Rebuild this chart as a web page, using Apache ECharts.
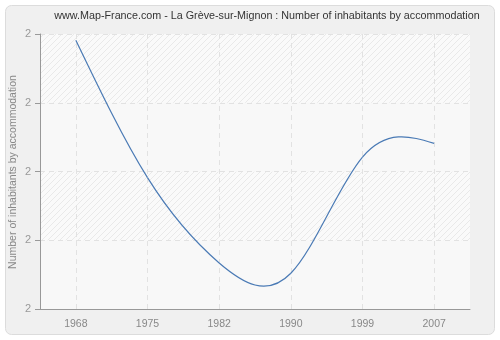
<!DOCTYPE html>
<html><head><meta charset="utf-8">
<script src="https://cdn.jsdelivr.net/npm/echarts@6/dist/echarts.min.js"></script>
<style>html,body{margin:0;padding:0;background:#fff}#c{width:500px;height:340px}</style>
</head><body><div id="c"></div>
<script>
const titleText = 'www.Map-France.com - La Grève-sur-Mignon : Number of inhabitants by accommodation';
const yAxisName = 'Number of inhabitants by accommodation';
const years = ['1968', '1975', '1982', '1990', '1999', '2007'];
const values = [2.191, 1.991, 1.867, 1.852, 2.021, 2.041];
const yMin = 1.8, yMax = 2.2, yStep = 0.1;
const FONT = 'Liberation Sans';

function hatch(bg) {
  const c = document.createElement('canvas');
  c.width = 6; c.height = 6;
  const g = c.getContext('2d');
  g.fillStyle = bg; g.fillRect(0, 0, 6, 6);
  g.strokeStyle = '#e9e9e9'; g.lineWidth = 1;
  g.beginPath();
  g.moveTo(0, 6); g.lineTo(6, 0);
  g.moveTo(-1, 1); g.lineTo(1, -1);
  g.moveTo(5, 7); g.lineTo(7, 5);
  g.stroke();
  return c;
}

// natural cubic spline through the pixel positions of the data points
function splineRender(params, api) {
  if (params.dataIndex !== 0) return null;
  const n = values.length;
  const P = values.map((v, i) => api.coord([i, v]));
  const y = P.map(p => p[1]);
  const M = new Array(n).fill(0);
  const m = n - 2;
  const c = [], d = [];
  for (let k = 0; k < m; k++) {
    const i = k + 1;
    const rhs = 6 * (y[i + 1] - 2 * y[i] + y[i - 1]);
    if (k === 0) { c[k] = 1 / 4; d[k] = rhs / 4; }
    else { const den = 4 - c[k - 1]; c[k] = 1 / den; d[k] = (rhs - d[k - 1]) / den; }
  }
  for (let k = m - 1; k >= 0; k--) {
    M[k + 1] = d[k] - (k < m - 1 ? c[k] * M[k + 2] : 0);
  }
  const children = [];
  for (let i = 0; i < n - 1; i++) {
    const dx = P[i + 1][0] - P[i][0];
    const dy = y[i + 1] - y[i];
    const s0 = dy - (2 * M[i] + M[i + 1]) / 6;
    const s1 = dy + (M[i] + 2 * M[i + 1]) / 6;
    children.push({
      type: 'bezierCurve',
      shape: {
        x1: P[i][0], y1: y[i],
        cpx1: P[i][0] + dx / 3, cpy1: y[i] + s0 / 3,
        cpx2: P[i + 1][0] - dx / 3, cpy2: y[i + 1] - s1 / 3,
        x2: P[i + 1][0], y2: y[i + 1]
      },
      style: {stroke: '#4a7ab5', lineWidth: 1.2, fill: null}
    });
  }
  return {type: 'group', children};
}

const chart = echarts.init(document.getElementById('c'), null, {renderer: 'canvas'});
chart.setOption({
  animation: false,
  backgroundColor: '#fff',
  graphic: [{
    type: 'rect', z: -10, silent: true,
    shape: {x: 5.5, y: 5.5, width: 489, height: 329, r: 6},
    style: {fill: '#f0f0f0', stroke: '#dcdcdc', lineWidth: 1}
  }, {
    type: 'text', x: 267, y: 11, silent: true,
    style: {text: titleText, align: 'center', verticalAlign: 'top',
      font: '10.75px "' + FONT + '"', fill: '#333'}
  }, {
    type: 'text', x: 13, y: 172, rotation: Math.PI / 2, silent: true,
    style: {text: yAxisName, align: 'center', verticalAlign: 'middle',
      font: '10.5px "' + FONT + '"', fill: '#888'}
  }],
  grid: {left: 40, right: 30, top: 34, bottom: 31, outerBoundsMode: 'none', containLabel: false,
    show: true, backgroundColor: '#fafafa', borderWidth: 0},
  xAxis: {
    type: 'category', data: years, boundaryGap: true,
    axisLine: {lineStyle: {color: '#999'}},
    axisTick: {alignWithLabel: true, length: 5, lineStyle: {color: '#999'}},
    axisLabel: {color: '#888', fontFamily: FONT, fontSize: 10.5, margin: 10},
    splitLine: {show: true, alignWithLabel: true, lineStyle: {color: '#e2e2e2', type: [5, 4]}}
  },
  yAxis: {
    type: 'value', min: yMin, max: yMax, interval: yStep,
    axisLine: {show: true, lineStyle: {color: '#999'}},
    axisTick: {show: true, length: 5, lineStyle: {color: '#999'}},
    axisLabel: {color: '#999', fontFamily: FONT, fontSize: 11, margin: 9,
      formatter: v => String(Math.round(v))},
    splitLine: {show: true, lineStyle: {color: '#e2e2e2', type: [5, 4]}},
    splitArea: {show: true, areaStyle: {color: [
      '#f8f8f8', {image: hatch('#fafafa'), repeat: 'repeat'}
    ]}}
  },
  series: [{
    type: 'custom', data: values.map((v, i) => [i, v]), renderItem: splineRender,
    encode: {x: 0, y: 1}, clip: true
  }]
});
</script></body></html>
